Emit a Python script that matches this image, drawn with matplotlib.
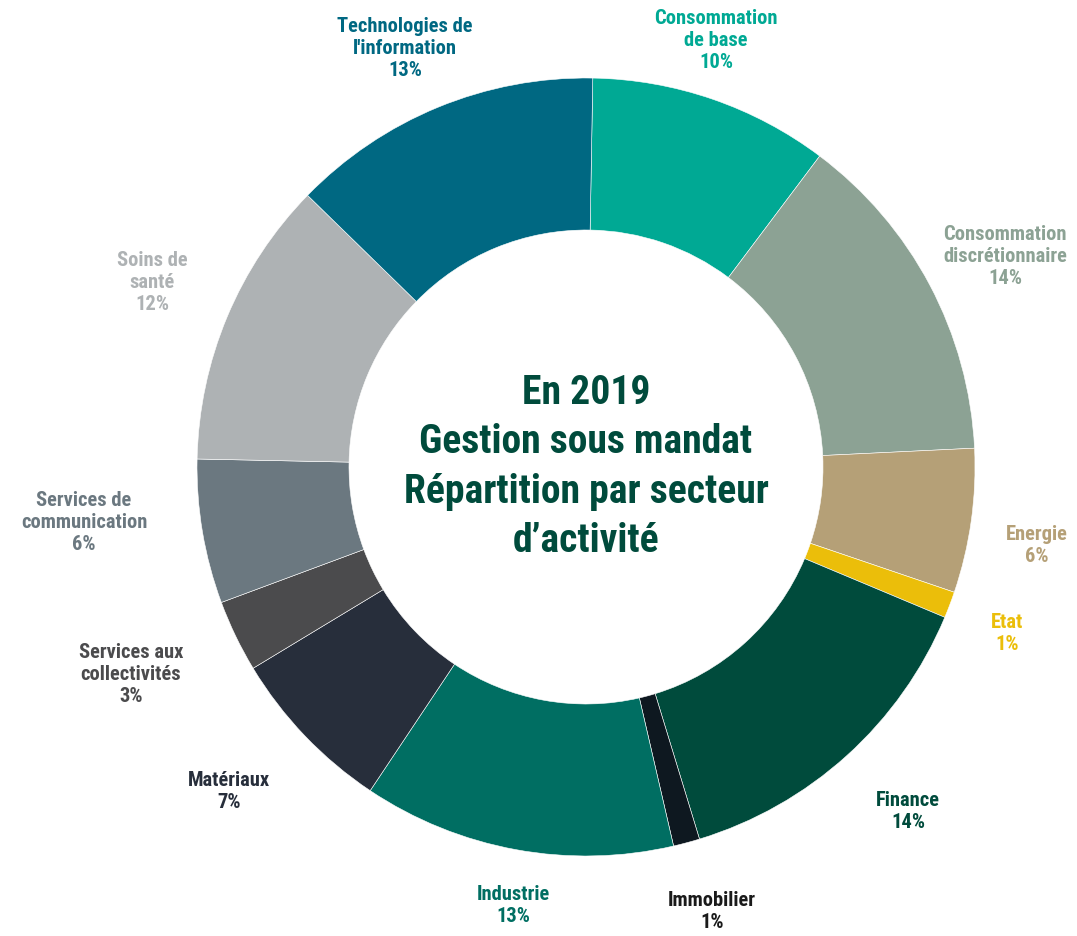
import numpy as np
import matplotlib
matplotlib.use('Agg')
import matplotlib.pyplot as plt
from matplotlib import font_manager as fm

#%% data
sectors = ['Consommation\nde base', 'Consommation\ndiscrétionnaire', 'Energie', 'Etat',
           'Finance', 'Immobilier', 'Industrie', 'Matériaux',
           'Services aux\ncollectivités', 'Services de\ncommunication',
           'Soins de\nsanté', "Technologies de\nl'information"]
weights = [10, 14, 6, 1.1, 14, 1.1, 13, 7, 3, 6, 12, 13]
pct_labels = ['10%', '14%', '6%', '1%', '14%', '1%', '13%', '7%', '3%', '6%', '12%', '13%']
colors = ['#00a994', '#8ca294', '#b5a077', '#ebbe0a', '#004b3c', '#0e1820',
          '#006e62', '#272e3b', '#4b4b4d', '#6b7880', '#aeb2b4', '#006882']
text_colors = ['#00a994', '#8ca294', '#b5a077', '#ebbe0a', '#004b3c', '#1a1a1a',
               '#006e62', '#272e3b', '#4b4b4d', '#6b7880', '#aeb2b4', '#006882']
title_lines = 'En 2019\nGestion sous mandat\nRépartition par secteur\nd\u2019activité'

#%% layout (pixel positions of label centres)
W, H = 1077, 936
cx, cy, R = 586, 467, 389
label_px = [(716, 41), (1005, 256), (1037, 546), (1007, 633), (908, 812), (712, 911),
            (513, 905), (229, 791), (131, 674), (84, 522), (152, 283), (405, 48)]

# pick a condensed bold face if one is installed
prefs = ['Roboto Condensed', 'Archivo Narrow', 'PT Sans Narrow', 'Liberation Sans Narrow',
         'Barlow Condensed', 'IBM Plex Sans Condensed', 'Fira Sans Condensed']
all_faces = set(f.name for f in fm.fontManager.ttflist)
face = next((p for p in prefs if p in all_faces), 'DejaVu Sans')
plt.rcParams['font.family'] = [face, 'DejaVu Sans']

fig = plt.figure(figsize=(W / 100, H / 100), dpi=100)
ax = fig.add_axes([0, 0, 1, 1])
ax.pie(weights, colors=colors, startangle=89, counterclock=False, radius=1,
       wedgeprops=dict(width=1 - 237 / 389, edgecolor='white', linewidth=0.4))
ax.set_xlim(-cx / R, (W - cx) / R)
ax.set_ylim(-(H - cy) / R, cy / R)
ax.set_aspect('equal')
ax.axis('off')

for name, pct, col, (px, py) in zip(sectors, pct_labels, text_colors, label_px):
    ax.text((px - cx) / R, (cy - py) / R, name + '\n' + pct, color=col,
            ha='center', va='center', fontsize=14.8, fontweight='bold',
            linespacing=1.2)

ax.text(0, 0, title_lines, color='#004b3c', ha='center', va='center',
        fontsize=28.5, fontweight='bold', linespacing=1.38)

fig.savefig('out.png', dpi=100)
